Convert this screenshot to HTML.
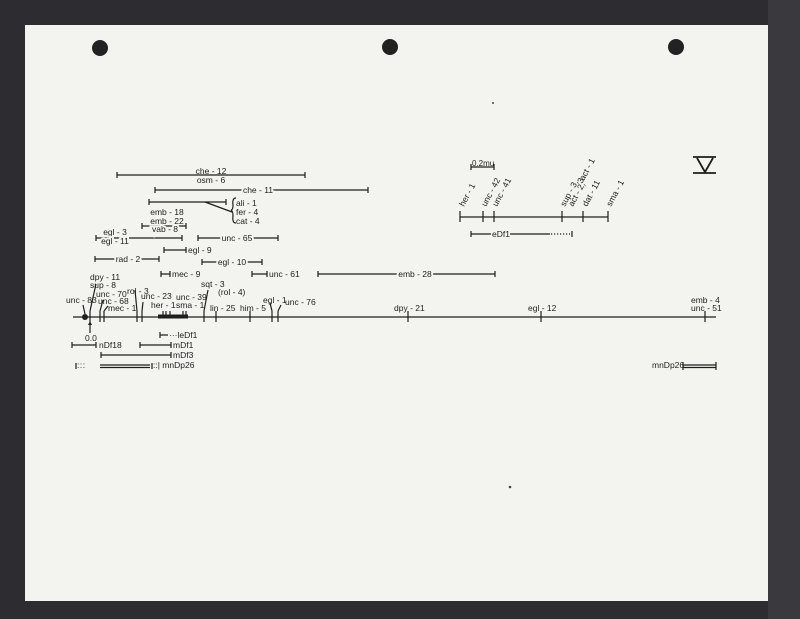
<!DOCTYPE html>
<html><head><meta charset="utf-8"><style>
html,body{margin:0;padding:0;background:#2b2b30;}
svg{display:block}
text{font-family:"Liberation Sans",sans-serif;font-size:8.5px;fill:#1e1e1e;}
</style></head><body>
<svg width="800" height="619" viewBox="0 0 800 619" xmlns="http://www.w3.org/2000/svg">
<rect x="0" y="0" width="800" height="619" fill="#2c2c31"/>
<rect x="768" y="0" width="32" height="619" fill="#3a3a3e"/>
<rect x="25" y="25" width="743" height="576" fill="#f3f3ef"/>
<circle cx="100" cy="48" r="8" fill="#222"/>
<circle cx="390" cy="47" r="8" fill="#222"/>
<circle cx="676" cy="47" r="8" fill="#222"/>
<circle cx="493" cy="103" r="1" fill="#444"/>
<circle cx="510" cy="487" r="1.3" fill="#444"/>
<g stroke="#1e1e1e" stroke-width="1.2" fill="none">
<line x1="73" y1="317" x2="716" y2="317"/>
<line x1="90" y1="311" x2="90" y2="322"/>
<line x1="100" y1="311" x2="100" y2="322"/><line x1="104" y1="311" x2="104" y2="322"/>
<line x1="137" y1="311" x2="137" y2="322"/><line x1="142" y1="311" x2="142" y2="322"/>
<line x1="204" y1="311" x2="204" y2="322"/><line x1="216" y1="311" x2="216" y2="322"/>
<line x1="250" y1="311" x2="250" y2="322"/><line x1="272" y1="311" x2="272" y2="322"/>
<line x1="278" y1="311" x2="278" y2="322"/><line x1="408" y1="311" x2="408" y2="322"/>
<line x1="541" y1="311" x2="541" y2="322"/><line x1="705" y1="311" x2="705" y2="322"/>
<line x1="163" y1="311" x2="163" y2="317"/><line x1="166" y1="311" x2="166" y2="317"/><line x1="170" y1="311" x2="170" y2="317"/><line x1="183" y1="311" x2="183" y2="317"/><line x1="186" y1="311" x2="186" y2="317"/>
<line x1="83" y1="305" x2="85" y2="314"/>
<line x1="90" y1="311" x2="96" y2="284"/>
<line x1="100" y1="311" x2="103" y2="300"/>
<line x1="104" y1="311" x2="108" y2="306"/>
<line x1="137" y1="311" x2="135" y2="290"/>
<line x1="142" y1="311" x2="143" y2="302"/>
<line x1="204" y1="311" x2="208" y2="290"/>
<line x1="272" y1="311" x2="270" y2="303"/>
<line x1="278" y1="311" x2="281" y2="305"/>
<path d="M117 175H305M117 172V178M305 172V178"/>
<path d="M155 190H368M155 187V193M368 187V193"/>
<path d="M149 202H226M149 199V205M226 199V205M205 202L232 212"/>
<path d="M236 198Q232 198 233 205Q233 210 231 210Q233 211 233 216Q232 223 236 223"/>
<path d="M142 226H186M142 223V229M186 223V229"/>
<path d="M96 238H182M96 235V241M182 235V241"/>
<path d="M198 238H278M198 235V241M278 235V241"/>
<path d="M164 250H186M164 247V253M186 247V253"/>
<path d="M95 259H159M95 256V262M159 256V262"/>
<path d="M202 262H262M202 259V265M262 259V265"/>
<path d="M161 274H170M161 271V277M170 271V277"/>
<path d="M252 274H267M252 271V277M267 271V277"/>
<path d="M318 274H495M318 271V277M495 271V277"/>
<path d="M90 333V325"/>
<path d="M160 335H168M160 332V338"/>
<path d="M72 345H96M72 342V348M96 342V348"/>
<path d="M140 345H171M140 342V348M171 342V348"/>
<path d="M101 355H171M101 352V358M171 352V358"/>
<path d="M100 365H150M100 367.5H150M76 363V369M152 363V369"/>
<path d="M683 365H716M683 367.5H716M683 362V370M716 362V370"/>
<path d="M460 217H608"/>
<path d="M460 211V222M483 211V222M494 211V222M562 211V222M583 211V222M608 211V222"/>
<path d="M471 167H494M471 164V170M494 164V170"/>
<path d="M471 234H494M510 234H550M471 231V237M572 231V237"/>
<path d="M551 234H570" stroke-dasharray="1.2 1.8"/>
<path d="M693 157H716M693 173H716M697 158L705 172L713 158" stroke-width="1.8"/>
</g>
<rect x="158" y="314.5" width="30" height="4" fill="#1e1e1e"/>
<circle cx="85" cy="317" r="3" fill="#1e1e1e"/>
<path d="M88 325L90 321L92 325Z" fill="#1e1e1e"/>
<g>
<text x="211" y="174" text-anchor="middle">che - 12</text>
<text x="211" y="183" text-anchor="middle">osm - 6</text>
<text x="258" y="193" text-anchor="middle" style="paint-order:stroke;stroke:#f3f3ef;stroke-width:4">che - 11</text>
<text x="236" y="206">ali - 1</text>
<text x="236" y="215">fer - 4</text>
<text x="236" y="224">cat - 4</text>
<text x="167" y="215" text-anchor="middle">emb - 18</text>
<text x="167" y="224" text-anchor="middle">emb - 22</text>
<text x="165" y="232" text-anchor="middle" style="paint-order:stroke;stroke:#f3f3ef;stroke-width:4">vab - 8</text>
<text x="115" y="235" text-anchor="middle">egl - 3</text>
<text x="115" y="244" text-anchor="middle" style="paint-order:stroke;stroke:#f3f3ef;stroke-width:4">egl - 11</text>
<text x="237" y="241" text-anchor="middle" style="paint-order:stroke;stroke:#f3f3ef;stroke-width:4">unc - 65</text>
<text x="188" y="253">egl - 9</text>
<text x="128" y="262" text-anchor="middle" style="paint-order:stroke;stroke:#f3f3ef;stroke-width:4">rad - 2</text>
<text x="232" y="265" text-anchor="middle" style="paint-order:stroke;stroke:#f3f3ef;stroke-width:4">egl - 10</text>
<text x="172" y="277">mec - 9</text>
<text x="269" y="277">unc - 61</text>
<text x="415" y="277" text-anchor="middle" style="paint-order:stroke;stroke:#f3f3ef;stroke-width:4">emb - 28</text>
<text x="90" y="280">dpy - 11</text>
<text x="90" y="288">sup - 8</text>
<text x="96" y="297">unc - 70</text>
<text x="98" y="304">unc - 68</text>
<text x="108" y="311">mec - 1</text>
<text x="66" y="303">unc - 83</text>
<text x="127" y="294">rol - 3</text>
<text x="141" y="299">unc - 23</text>
<text x="151" y="308">her - 1</text>
<text x="176" y="300">unc - 39</text>
<text x="176" y="308">sma - 1</text>
<text x="201" y="287">sqt - 3</text>
<text x="218" y="295">(rol - 4)</text>
<text x="210" y="311">lin - 25</text>
<text x="240" y="311">him - 5</text>
<text x="263" y="303">egl - 1</text>
<text x="285" y="305">unc - 76</text>
<text x="394" y="311">dpy - 21</text>
<text x="528" y="311">egl - 12</text>
<text x="691" y="303">emb - 4</text>
<text x="691" y="311">unc - 51</text>
<text x="85" y="341">0.0</text>
<text x="169" y="338">···leDf1</text>
<text x="99" y="348">nDf18</text>
<text x="173" y="348">mDf1</text>
<text x="173" y="358">mDf3</text>
<text x="77" y="368" style="letter-spacing:0.5px">:::</text>
<text x="153" y="368">::| mnDp26</text>
<text x="652" y="368">mnDp26</text>
<text x="472" y="166" style="font-size:8px">0.2mu</text>
<text x="492" y="237" style="paint-order:stroke;stroke:#f3f3ef;stroke-width:3">eDf1</text>
<text transform="translate(464,207) rotate(-62)">her - 1</text>
<text transform="translate(486,207) rotate(-62)">unc - 42</text>
<text transform="translate(497,207) rotate(-62)">unc - 41</text>
<text transform="translate(565,207) rotate(-62)">sup - 3,</text>
<text transform="translate(573,207) rotate(-62)">act - 2,</text>
<text transform="translate(584,181) rotate(-62)">act - 1</text>
<text transform="translate(582,184) rotate(-62)">3</text>
<text transform="translate(587,207) rotate(-62)">dat - 11</text>
<text transform="translate(611,207) rotate(-62)">sma - 1</text>
</g>
</svg>
</body></html>
